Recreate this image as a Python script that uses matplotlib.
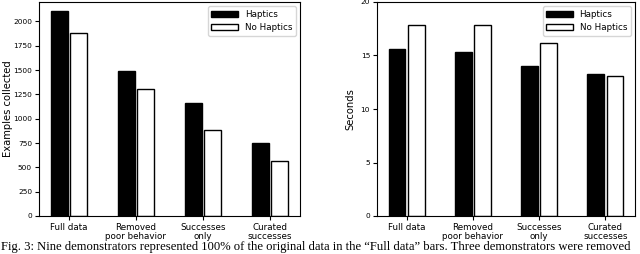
import numpy as np
import matplotlib
matplotlib.use("Agg")
import matplotlib.pyplot as plt

categories = ["Full data", "Removed\npoor behavior", "Successes\nonly", "Curated\nsuccesses"]
examples_haptics = [2105, 1495, 1165, 755]
examples_no_haptics = [1878, 1302, 885, 565]
seconds_haptics = [15.58, 15.3, 14.05, 13.27]
seconds_no_haptics = [17.88, 17.88, 16.2, 13.1]

caption = ("Fig. 3: Nine demonstrators represented 100% of the original data in the \u201cFull data\u201d bars. "
           "Three demonstrators were removed")

plt.rcParams['font.size'] = 6
fig = plt.figure(figsize=(6.4, 2.54), dpi=100)
ax1 = fig.add_axes([39/640, 1-216/254, 261/640, 214/254])
ax2 = fig.add_axes([377/640, 1-216/254, 258/640, 214/254])

x = np.arange(len(categories))
w = 0.25
off = 0.145

for ax, h, nh, ylab in [(ax1, examples_haptics, examples_no_haptics, "Examples collected"),
                        (ax2, seconds_haptics, seconds_no_haptics, "Seconds")]:
    ax.bar(x - off, h, w, color="black", edgecolor="black", linewidth=1, label="Haptics")
    ax.bar(x + off, nh, w, color="white", edgecolor="black", linewidth=1, label="No Haptics")
    ax.set_xticks(x)
    ax.set_xticklabels(categories, fontsize=6.3, linespacing=1.0)
    ax.set_ylabel(ylab, fontsize=7.2)
    ax.tick_params(axis="y", labelsize=5.3, length=3, pad=2)
    ax.tick_params(axis="x", length=3, pad=2)
    ax.legend(loc="upper right", fontsize=6.3, handlelength=3.0, handleheight=0.6,
              borderaxespad=0.5, fancybox=True)

ax1.set_ylim(0, 2200)
ax1.set_yticks(range(0, 2001, 250))
ax1.yaxis.set_label_coords(-26/261, 0.5)
ax2.set_ylim(0, 20)
ax2.set_yticks(range(0, 21, 5))
ax2.yaxis.set_label_coords(-22/258, 0.5)

fig.text(0.002, 1-250/254, caption, family="Liberation Serif", fontsize=9.1, va="baseline", ha="left")

fig.savefig("out.png", dpi=100)
